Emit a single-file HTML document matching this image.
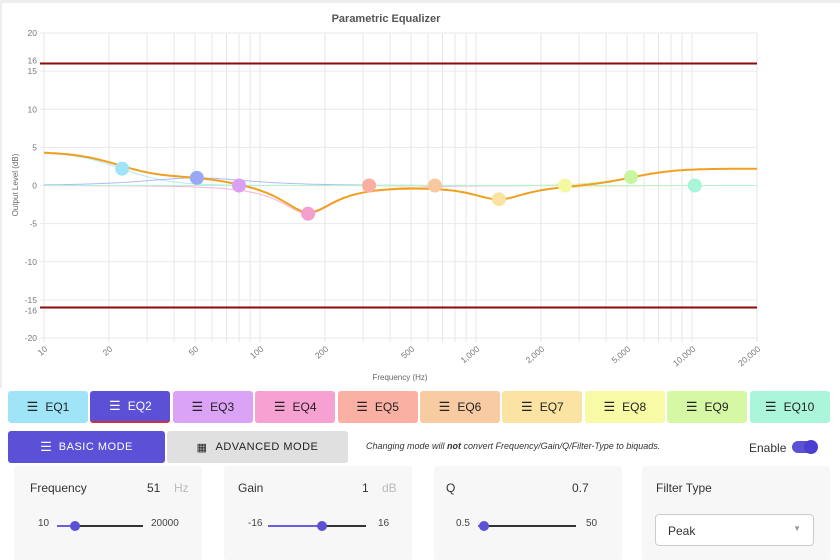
<!DOCTYPE html>
<html><head><meta charset="utf-8"><style>
*{box-sizing:border-box}
body{margin:0;width:840px;height:560px;overflow:hidden;background:#fff;font-family:"Liberation Sans",sans-serif;position:relative}
.frame{position:absolute;left:0;top:0;width:840px;height:388px;border-top:3px solid #eee;border-left:2px solid #eee}
.tab{position:absolute;top:391px;height:32px;border-radius:3px;font-size:12px;color:#222;display:flex;align-items:center;justify-content:center;gap:8px}
.ic{font-size:13px;letter-spacing:-1px}
.btn{position:absolute;top:431px;height:32px;border-radius:3px;display:flex;align-items:center;justify-content:center;font-size:11px;letter-spacing:.5px}
.card{position:absolute;top:466px;height:94px;background:#f7f7f7;border-radius:3px;font-size:12px;color:#333}
.lbl{position:absolute;top:15px}
.sl{position:absolute;top:52px;font-size:10px;color:#444}
.track{position:absolute;top:59px;height:2px;background:#333}
.fill{position:absolute;top:59px;height:2px;background:#6a5ee0}
.knob{position:absolute;top:55px;width:10px;height:10px;border-radius:50%;background:#5b50d6}
</style></head><body>
<div class="frame"></div>
<svg id="chart" width="840" height="390" style="position:absolute;left:0;top:0">
<text x="386" y="22" text-anchor="middle" font-size="11" font-weight="bold" fill="#555">Parametric Equalizer</text>
<text transform="translate(18,185) rotate(-90)" text-anchor="middle" font-size="8" fill="#666">Output Level (dB)</text>
<text x="400" y="380" text-anchor="middle" font-size="8" fill="#666">Frequency (Hz)</text>
<g id="grid"></g><g id="curves"></g><g id="points"></g>
</svg>

<div id="tabs"></div>

<div class="btn" style="left:8px;width:157px;background:#5b50d6;color:#fff"><span class="ic" style="margin-right:8px">☰</span>BASIC MODE</div>
<div class="btn" style="left:167px;width:181px;background:#e0e0e0;color:#222"><span style="margin-right:8px">▦</span>ADVANCED MODE</div>
<div style="position:absolute;left:366px;top:441px;font-size:9px;font-style:italic;color:#333">Changing mode will <b>not</b> convert Frequency/Gain/Q/Filter-Type to biquads.</div>
<div style="position:absolute;left:749px;top:441px;font-size:12px;color:#333">Enable</div>
<div style="position:absolute;left:792px;top:441px;width:25px;height:12px;border-radius:6px;background:#5b50d6"><div style="position:absolute;right:-1px;top:-1px;width:14px;height:14px;border-radius:50%;background:#4a3fd0"></div></div>

<div class="card" style="left:14px;width:188px">
<div class="lbl" style="left:16px">Frequency</div><div class="lbl" style="left:133px">51</div><div class="lbl" style="left:160px;color:#bbb">Hz</div>
<div class="sl" style="left:24px">10</div><div class="fill" style="left:43px;width:18px"></div><div class="track" style="left:61px;width:68px"></div><div class="knob" style="left:56px"></div><div class="sl" style="left:137px">20000</div></div>
<div class="card" style="left:224px;width:188px">
<div class="lbl" style="left:14px">Gain</div><div class="lbl" style="left:138px">1</div><div class="lbl" style="left:158px;color:#bbb">dB</div>
<div class="sl" style="left:24px">-16</div><div class="fill" style="left:44px;width:54px"></div><div class="track" style="left:98px;width:44px"></div><div class="knob" style="left:93px"></div><div class="sl" style="left:154px">16</div></div>
<div class="card" style="left:434px;width:188px">
<div class="lbl" style="left:12px">Q</div><div class="lbl" style="left:138px">0.7</div>
<div class="sl" style="left:22px">0.5</div><div class="fill" style="left:44px;width:6px"></div><div class="track" style="left:50px;width:92px"></div><div class="knob" style="left:45px"></div><div class="sl" style="left:152px">50</div></div>
<div class="card" style="left:642px;width:188px">
<div class="lbl" style="left:14px">Filter Type</div>
<div style="position:absolute;left:13px;top:48px;width:159px;height:32px;border:1px solid #ccc;border-radius:4px;background:#fff;font-size:12px;padding:9px 12px">Peak<span style="position:absolute;right:12px;top:9px;font-size:8px;color:#999">▼</span></div></div>

<script>
const freqs=[23,51,80,167,320,645,1277,2580,5220,10300];
const gains=[4.4,1,0,-3.7,0,0,-1.8,0,2.2,0];
const qs=[0.7,0.7,0.7,1.4,0.7,0.7,1.4,0.7,0.7,0.7];
const types=['lowshelf','peak','peak','peak','peak','peak','peak','peak','highshelf','peak'];
const colors=['#a0e4f8','#9aa8f8','#d9a0f3','#f59fd0','#f9aea0','#f8c9a0','#fbe2a0','#f4f8a0','#c9f5a0','#a8f5d8'];
const tabColors=['#a0e4f8','#5b50d6','#dba3f5','#f7a1d3','#fab0a3','#f9cba3','#fbe4a3','#f8faa5','#d6f8a5','#abf5da'];
const yTicks=[20,15,10,5,0,-5,-10,-15,-20];
const xTicks=[10,20,50,100,200,500,1000,2000,5000,10000,20000];
const limits=[16,-16];
const L=44,R=757,T=33,B=338,fs=48000;
const x=f=>L+(Math.log10(f)-1)/Math.log10(2000)*(R-L);
const y=v=>T+(20-v)/40*(B-T);
const NS='http://www.w3.org/2000/svg';
function mk(par,tag,at){const e=document.createElementNS(NS,tag);for(const k in at)e.setAttribute(k,at[k]);par.appendChild(e);return e;}
const grid=document.getElementById('grid');
for(let d=10;d<=10000;d*=10)for(let m=1;m<=9;m++){const f=d*m;if(f>20000)break;
 const l=mk(grid,'line',{x1:x(f),x2:x(f),y1:T,y2:B+4,stroke:'#e6e6e6','stroke-width':1});
 }
{const l=mk(grid,'line',{x1:x(20000),x2:x(20000),y1:T,y2:B+4,stroke:'#e6e6e6'});}
yTicks.forEach(v=>{const l=mk(grid,'line',{x1:L-4,x2:R,y1:y(v),y2:y(v),stroke:'#e9e9e9'});
 
 const t=mk(grid,'text',{x:L-7,y:y(v)+3,'text-anchor':'end','font-size':8.5,fill:'#777'});t.textContent=v;
 });
limits.forEach(v=>{const l=mk(grid,'line',{x1:L-4,x2:R,y1:y(v),y2:y(v),stroke:'#8b0a0a','stroke-width':2});
 
 const t=mk(grid,'text',{x:L-7,y:y(v)+(v>0?0:6),'text-anchor':'end','font-size':8.5,fill:'#777'});t.textContent=v;
 });
{const l=mk(grid,'line',{x1:L,x2:R,y1:y(0),y2:y(0),stroke:'#b01030','stroke-width':1});}
xTicks.forEach(f=>{const t=mk(grid,'text',{transform:`translate(${x(f)+4},${B+12}) rotate(-40)`,'text-anchor':'end','font-size':8.5,fill:'#777'});
 t.textContent=f.toLocaleString('en-US');});
function coefs(i){const A=Math.pow(10,gains[i]/40),w=2*Math.PI*freqs[i]/fs,c=Math.cos(w),s=Math.sin(w),al=s/(2*qs[i]);let b0,b1,b2,a0,a1,a2;
 if(types[i]=='peak'){b0=1+al*A;b1=-2*c;b2=1-al*A;a0=1+al/A;a1=-2*c;a2=1-al/A;}
 else{const sa=2*Math.sqrt(A)*al;
  if(types[i]=='lowshelf'){b0=A*((A+1)-(A-1)*c+sa);b1=2*A*((A-1)-(A+1)*c);b2=A*((A+1)-(A-1)*c-sa);a0=(A+1)+(A-1)*c+sa;a1=-2*((A-1)+(A+1)*c);a2=(A+1)+(A-1)*c-sa;}
  else{b0=A*((A+1)+(A-1)*c+sa);b1=-2*A*((A-1)+(A+1)*c);b2=A*((A+1)+(A-1)*c-sa);a0=(A+1)-(A-1)*c+sa;a1=2*((A-1)-(A+1)*c);a2=(A+1)-(A-1)*c-sa;}}
 return [b0,b1,b2,a0,a1,a2];}
function resp(cf,f){const w=2*Math.PI*f/fs;const [b0,b1,b2,a0,a1,a2]=cf;
 const nr=b0+b1*Math.cos(w)+b2*Math.cos(2*w),ni=-(b1*Math.sin(w)+b2*Math.sin(2*w));
 const dr=a0+a1*Math.cos(w)+a2*Math.cos(2*w),di=-(a1*Math.sin(w)+a2*Math.sin(2*w));
 return 10*Math.log10((nr*nr+ni*ni)/(dr*dr+di*di));}
const cv=document.getElementById('curves');const cfs=freqs.map((_,i)=>coefs(i));
const N=300,fr=[];for(let k=0;k<=N;k++)fr.push(Math.pow(10,1+k/N*Math.log10(2000)));
cfs.forEach((cf,i)=>{const d=fr.map((f,k)=>(k?'L':'M')+x(f).toFixed(1)+','+y(resp(cf,f)).toFixed(1)).join('');
 const p=mk(cv,'path',{d,fill:'none',stroke:colors[i],'stroke-width':1,opacity:.8});
 });
{const d=fr.map((f,k)=>(k?'L':'M')+x(f).toFixed(1)+','+y(cfs.reduce((s,cf)=>s+resp(cf,f),0)).toFixed(1)).join('');
 const p=mk(cv,'path',{d,fill:'none',stroke:'#f0a020','stroke-width':2});}
const pts=document.getElementById('points');
freqs.forEach((f,i)=>{const g=types[i]=='peak'?gains[i]:gains[i]/2;
 const c=mk(pts,'circle',{cx:x(f),cy:y(g),r:7,fill:colors[i]});
 });
const tabs=document.getElementById('tabs');
tabColors.forEach((col,i)=>{const d=document.createElement('div');d.className='tab';
 d.style.left=(8+i*82.4)+'px';d.style.width='80px';d.style.background=col;
 if(i==1){d.style.color='#fff';d.style.borderBottom='2px solid #d03040';}
 d.innerHTML='<span class="ic">☰</span>EQ'+(i+1);
 
 
 tabs.appendChild(d);});
</script>
</body></html>
